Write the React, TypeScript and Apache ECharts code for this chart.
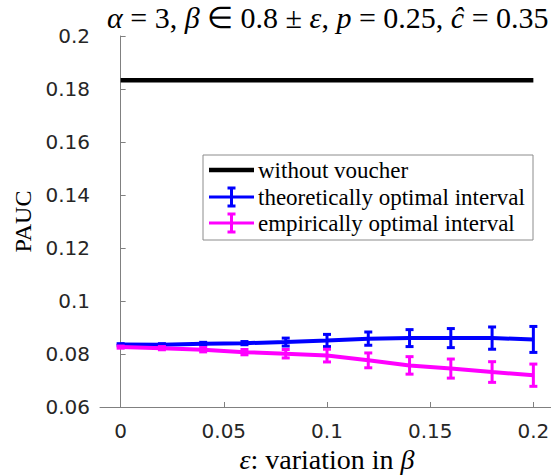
import React, { useEffect, useRef } from "react";
import * as echarts from "echarts";

const xValues = [0, 0.02, 0.04, 0.06, 0.08, 0.1, 0.12, 0.14, 0.16, 0.18, 0.2];
const withoutVoucher = [0.1833, 0.1833, 0.1833, 0.1833, 0.1833, 0.1833, 0.1833, 0.1833, 0.1833, 0.1833, 0.1833];
const theoMean = [0.0836, 0.0835, 0.0839, 0.0841, 0.0845, 0.0851, 0.0858, 0.086, 0.086, 0.086, 0.0855];
const theoErr = [0.0003, 0.0004, 0.0005, 0.0006, 0.0015, 0.0023, 0.0025, 0.0032, 0.0036, 0.0042, 0.0049];
const empMean = [0.0826, 0.0822, 0.0816, 0.0807, 0.0801, 0.0794, 0.0776, 0.0757, 0.0745, 0.0732, 0.072];
const empErr = [0.0004, 0.0006, 0.0008, 0.001, 0.0016, 0.0024, 0.0028, 0.0033, 0.0036, 0.0039, 0.0042];
const xTicks = [0, 0.05, 0.1, 0.15, 0.2];
const legendNames = ["without voucher", "theoretically optimal interval", "empirically optimal interval"];

const SERIF = "'Liberation Serif', 'Times New Roman', serif";
const SANS = "'DejaVu Sans', 'Liberation Sans', sans-serif";
const BLUE = "#0000ff";
const MAGENTA = "#ff00ff";

function errorBarSeries(name: string, mean: number[], err: number[], color: string) {
  return {
    name: name + " error",
    type: "custom",
    silent: true,
    z: 3,
    encode: { x: 0, y: [1, 2] },
    data: xValues.map((x, i) => [x, mean[i] - err[i], mean[i] + err[i]]),
    renderItem: (params: any, api: any) => {
      const x = api.value(0);
      const lo = api.coord([x, api.value(1)]);
      const hi = api.coord([x, api.value(2)]);
      const w = 4;
      const st = { stroke: color, lineWidth: 3, fill: "none" };
      return {
        type: "group",
        children: [
          { type: "line", shape: { x1: lo[0], y1: lo[1], x2: hi[0], y2: hi[1] }, style: st },
          { type: "line", shape: { x1: lo[0] - w, y1: lo[1], x2: lo[0] + w, y2: lo[1] }, style: st },
          { type: "line", shape: { x1: hi[0] - w, y1: hi[1], x2: hi[0] + w, y2: hi[1] }, style: st },
        ],
      };
    },
  };
}

function legendGraphic() {
  const x0 = 209;
  const x1 = 254;
  const xm = (x0 + x1) / 2;
  const rows = [170, 197, 223];
  const colors = ["#000000", BLUE, MAGENTA];
  const children: any[] = [
    {
      type: "rect",
      shape: { x: 203, y: 155, width: 330, height: 85 },
      style: { fill: "#ffffff", stroke: "#8c8c8c", lineWidth: 1 },
    },
  ];
  rows.forEach((y, i) => {
    children.push({
      type: "line",
      shape: { x1: x0, y1: y, x2: x1, y2: y },
      style: { stroke: colors[i], lineWidth: i === 0 ? 4.5 : 3 },
    });
    if (i > 0) {
      const st = { stroke: colors[i], lineWidth: 3 };
      children.push({ type: "line", shape: { x1: xm, y1: y - 9, x2: xm, y2: y + 9 }, style: st });
      children.push({ type: "line", shape: { x1: xm - 4, y1: y - 9, x2: xm + 4, y2: y - 9 }, style: st });
      children.push({ type: "line", shape: { x1: xm - 4, y1: y + 9, x2: xm + 4, y2: y + 9 }, style: st });
    }
    children.push({
      type: "text",
      x: 258,
      y: y,
      style: {
        text: legendNames[i],
        font: `23px ${SERIF}`,
        fill: "#000000",
        textVerticalAlign: "middle",
        verticalAlign: "middle",
      },
    });
  });
  return { type: "group", z: 100, children };
}

export default function App() {
  const ref = useRef<HTMLDivElement>(null);
  useEffect(() => {
    document.body.style.margin = "0";
    const chart = echarts.init(ref.current!, null, { renderer: "svg" });
    const rich = {
      i: { fontFamily: SERIF, fontStyle: "italic", fontWeight: "normal", fontSize: 30, color: "#000" },
      n: { fontFamily: SERIF, fontWeight: "normal", fontSize: 30, color: "#000" },
    };
    chart.setOption({
      animation: false,
      backgroundColor: "#ffffff",
      title: {
        text: "{i|α}{n| = 3, }{i|β}{n| ∈ 0.8 ± }{i|ε}{n|, }{i|p}{n| = 0.25, }{i|ĉ}{n| = 0.35}",
        left: 102,
        top: -3,
        textStyle: { fontWeight: "normal", rich },
      },
      grid: { left: 100, top: 36, width: 454, height: 371, outerBoundsMode: "none", containLabel: false },
      xAxis: {
        type: "value",
        min: -0.01,
        max: 0.21,
        name: "{i|ε}{n|: variation in }{i|β}",
        nameLocation: "middle",
        nameGap: 36,
        nameTextStyle: {
          rich: {
            i: { fontFamily: SERIF, fontStyle: "italic", fontSize: 28, color: "#000" },
            n: { fontFamily: SERIF, fontSize: 28, color: "#000" },
          },
        },
        splitLine: { show: false },
        axisLine: { show: true, lineStyle: { color: "#808080", width: 1 } },
        axisTick: { show: true, inside: true, length: 5, customValues: xTicks, lineStyle: { color: "#808080" } },
        axisLabel: {
          customValues: xTicks,
          margin: 14,
          fontFamily: SANS,
          fontSize: 20,
          color: "#262626",
          formatter: (v: number) => String(Math.round(v * 100) / 100),
        },
      },
      yAxis: {
        type: "value",
        min: 0.06,
        max: 0.2,
        interval: 0.02,
        name: "PAUC",
        nameLocation: "middle",
        nameGap: 65,
        nameTextStyle: { fontFamily: SERIF, fontSize: 24, color: "#000" },
        splitLine: { show: false },
        axisLine: { show: true, lineStyle: { color: "#808080", width: 1 } },
        axisTick: { show: true, inside: true, length: 5, lineStyle: { color: "#808080" } },
        axisLabel: {
          margin: 10,
          fontFamily: SANS,
          fontSize: 20,
          color: "#262626",
          formatter: (v: number) => String(Math.round(v * 100) / 100),
        },
      },
      series: [
        {
          name: legendNames[0],
          type: "line",
          data: xValues.map((x, i) => [x, withoutVoucher[i]]),
          showSymbol: false,
          lineStyle: { color: "#000000", width: 4.5 },
          z: 2,
        },
        {
          name: legendNames[1],
          type: "line",
          data: xValues.map((x, i) => [x, theoMean[i]]),
          showSymbol: false,
          lineStyle: { color: BLUE, width: 4 },
          z: 2,
        },
        errorBarSeries(legendNames[1], theoMean, theoErr, BLUE),
        {
          name: legendNames[2],
          type: "line",
          data: xValues.map((x, i) => [x, empMean[i]]),
          showSymbol: false,
          lineStyle: { color: MAGENTA, width: 4 },
          z: 4,
        },
        errorBarSeries(legendNames[2], empMean, empErr, MAGENTA),
      ],
      graphic: [legendGraphic()],
    });
    return () => chart.dispose();
  }, []);
  return <div ref={ref} style={{ position: "fixed", left: 0, top: 0, width: 551, height: 475 }} />;
}
